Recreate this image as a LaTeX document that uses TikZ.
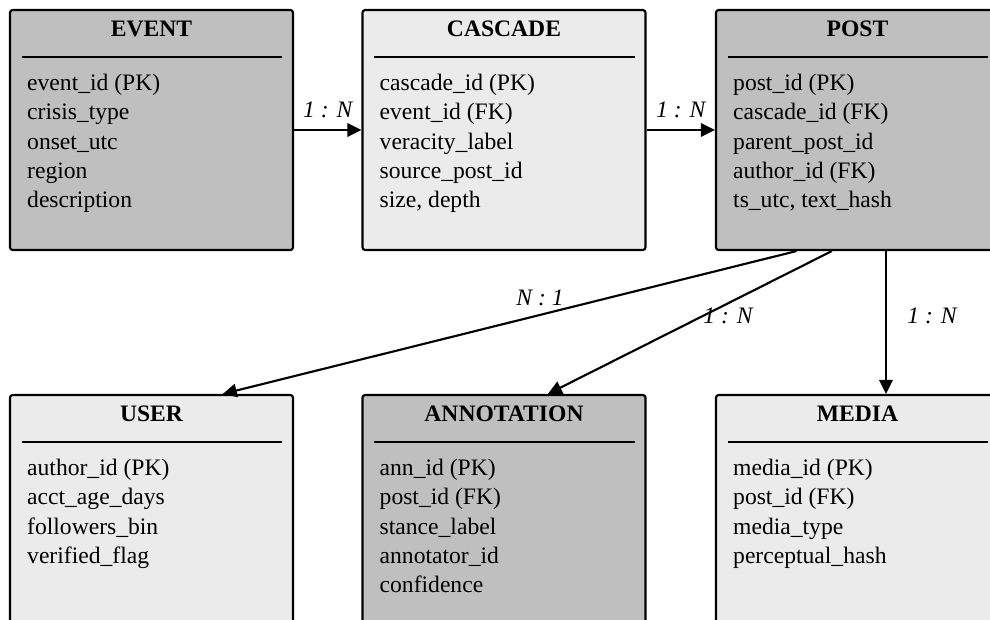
\documentclass[tikz,border=0pt]{standalone}
\usepackage{fontspec}
\setmainfont{Liberation Serif}
\usepackage{tikz}
\usetikzlibrary{calc,arrows.meta}

\definecolor{darkfill}{RGB}{191,191,191}
\definecolor{lightfill}{RGB}{235,235,235}

\tikzset{
    entity/.style={draw, line width=1.6pt, rounded corners=2pt, minimum width=212.25pt, minimum height=180pt, inner sep=0pt},
    etitle/.style={anchor=base, inner sep=0pt, font=\fontsize{17.7}{21}\selectfont\bfseries},
    efield/.style={anchor=base west, inner sep=0pt, font=\fontsize{17.7}{21}\selectfont},
    lab/.style={inner sep=0pt, font=\fontsize{17.7}{21}\selectfont\itshape},
    rel/.style={line width=1.6pt, -{Triangle[length=10.5pt, width=10pt]}}
}

% entity box: name, fill, centre, title, fields
\newcommand{\erentity}[5]{%
    \node[entity, fill=#2] (#1) at (#3) {};
    \node[etitle] at ($(#1.north)+(0,28)$) {#4};
    \draw[line width=1.4pt] ($(#1.north west)+(13,48)$) -- ($(#1.north east)+(-12,48)$);
    \foreach \f [count=\i from 0] in {#5}
        \node[efield] at ($(#1.north west)+(18,81.5+29.3*\i)$) {\f};
}

\begin{document}
\begin{tikzpicture}[x=0.75pt, y=-0.75pt]
    \useasboundingbox (0,0) rectangle (990,620);
    \clip (0,0) rectangle (990,620);

    % top row
    \erentity{event}{darkfill}{151.5,130}{EVENT}{event\_id (PK), crisis\_type, onset\_utc, region, description}
    \erentity{cascade}{lightfill}{504,130}{CASCADE}{cascade\_id (PK), event\_id (FK), veracity\_label, source\_post\_id, {size, depth}}
    \erentity{post}{darkfill}{857.5,130}{POST}{post\_id (PK), cascade\_id (FK), parent\_post\_id, author\_id (FK), {ts\_utc, text\_hash}}

    % bottom row
    \erentity{user}{lightfill}{151.5,515}{USER}{author\_id (PK), acct\_age\_days, followers\_bin, verified\_flag}
    \erentity{annot}{darkfill}{504,515}{ANNOTATION}{ann\_id (PK), post\_id (FK), stance\_label, annotator\_id, confidence}
    \erentity{media}{lightfill}{857.5,515}{MEDIA}{media\_id (PK), post\_id (FK), media\_type, perceptual\_hash}

    % relations
    \draw[rel] (event.east) -- node[lab, yshift=15pt] {1 : N} (cascade.west);
    \draw[rel] (cascade.east) -- node[lab, yshift=15pt] {1 : N} (post.west);
    \draw[rel] ($(post.south west)!0.286!(post.south east)$) -- node[lab, pos=0.447, yshift=12.6pt] {N : 1} ($(user.north west)!0.75!(user.north east)$);
    \draw[rel] ($(post.south west)!0.41!(post.south east)$) -- node[lab, pos=0.366, yshift=-9.75pt] {1 : N} ($(annot.north west)!0.654!(annot.north east)$);
    \draw[rel] ($(post.south west)!0.6!(post.south east)$) -- node[lab, xshift=34.5pt, yshift=4.9pt] {1 : N} ($(media.north west)!0.6!(media.north east)$);
\end{tikzpicture}
\end{document}
